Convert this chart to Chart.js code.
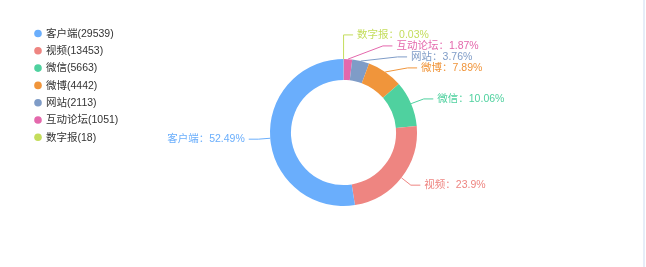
<!DOCTYPE html>
<html>
<head>
<meta charset="utf-8">
<script src="https://cdn.jsdelivr.net/npm/chart.js@4/dist/chart.umd.min.js"></script>
<style>
  html,body{margin:0;padding:0;background:#fff;}
  #wrap{position:relative;width:646px;height:267px;}
  #edge{position:absolute;left:643px;top:0;width:2px;height:267px;background:#e6edf8;}
</style>
</head>
<body>
<div id="wrap">
  <canvas id="chartFuente" width="646" height="267"></canvas>
  <div id="edge"></div>
</div>
<script>
// legend order (as shown top-left)
const categorias = ['客户端','视频','微信','微博','网站','互动论坛','数字报'];
const valores    = [29539, 13453, 5663, 4442, 2113, 1051, 18];
const colores    = ['#6aaefc','#ee8581','#4fd19f','#f0953b','#7f9cc7','#e468ac','#c4dd5b'];

const FONT = '10.5px "Liberation Sans","Noto Sans CJK SC",sans-serif';

// percentages with 2 decimals that add up to 100 (largest remainder)
function porcentajes(vals){
  const total = vals.reduce((a,b)=>a+b,0);
  const raw = vals.map(v=>v/total*10000);
  const base = raw.map(Math.floor);
  let falta = 10000 - base.reduce((a,b)=>a+b,0);
  const orden = raw.map((r,i)=>[r-base[i],i]).sort((a,b)=>b[0]-a[0]);
  for(let k=0;k<falta;k++) base[orden[k][1]]++;
  return base.map(b=>String(+(b/100).toFixed(2)));
}
const pct = porcentajes(valores);

// the ring runs counter-clockwise from the top in legend order,
// so chart.js (clockwise) gets the reversed lists
const idx = categorias.map((_,i)=>i).reverse();

const leyendaPlugin = {
  id:'leyenda',
  afterDraw(chart){
    const ctx = chart.ctx;
    ctx.save();
    ctx.font = FONT;
    ctx.textBaseline = 'middle';
    categorias.forEach((c,i)=>{
      const y = 33.5 + i*17.3;
      ctx.fillStyle = colores[i];
      ctx.beginPath(); ctx.arc(38, y, 3.8, 0, Math.PI*2); ctx.fill();
      ctx.fillStyle = '#333';
      ctx.fillText(c + '(' + valores[i] + ')', 46, y+0.5);
    });
    ctx.restore();
  }
};

const etiquetasPlugin = {
  id:'etiquetas',
  afterDatasetsDraw(chart){
    const ctx = chart.ctx;
    const arcs = chart.getDatasetMeta(0).data;
    const L1 = 12, L2 = 9.5, GAP = 4, H = 11;
    const items = arcs.map((arc,j)=>{
      const p = arc.getProps(['x','y','startAngle','endAngle','outerRadius'], true);
      const m = (p.startAngle + p.endAngle)/2;
      const c = Math.cos(m), s = Math.sin(m);
      const i = idx[j];
      return {
        i, cx:p.x, cy:p.y, R:p.outerRadius, dir: c < 0 ? -1 : 1,
        x0: p.x + p.outerRadius*c, y0: p.y + p.outerRadius*s,
        ex: p.x + (p.outerRadius+L1)*c, ey: p.y + (p.outerRadius+L1)*s, yn: p.y + (p.outerRadius+L1)*s
      };
    });
    [-1,1].forEach(dir=>{
      const lado = items.filter(t=>t.dir===dir).sort((a,b)=>a.yn-b.yn);
      if(lado.length<2) return;
      // group overlapping labels and centre each group on its natural position
      let grupos = lado.map(t=>({list:[t], media:t.yn}));
      const pos = g => g.media - (g.list.length-1)*H/2;
      let cambio = true;
      while(cambio){
        cambio = false;
        for(let k=0;k<grupos.length-1;k++){
          const a = grupos[k], b = grupos[k+1];
          if(pos(a) + a.list.length*H > pos(b)){
            const list = a.list.concat(b.list);
            grupos.splice(k,2,{list, media:list.reduce((s,t)=>s+t.yn,0)/list.length});
            cambio = true; break;
          }
        }
      }
      let movido = false;
      grupos.forEach(g=>g.list.forEach((t,k)=>{
        const y = pos(g) + k*H;
        if(Math.abs(y-t.yn)>0.01) movido = true;
        t.ey = y;
      }));
      if(!movido) return;
      // keep shifted elbows on an ellipse (top and bottom halves separately)
      const cx = lado[0].cx, cy = lado[0].cy, rA = lado[0].R + L1;
      [lado.filter(t=>t.ey<=cy), lado.filter(t=>t.ey>cy)].forEach(semi=>{
        if(!semi.length) return;
        let ext = semi[0];
        semi.forEach(t=>{ if(Math.abs(t.ey-cy) >= Math.abs(ext.ey-cy)) ext = t; });
        const dx = Math.abs(ext.ex - cx), dy = Math.abs(ext.ey - cy);
        const rB = dx < rA ? Math.sqrt(dy*dy/(1 - dx*dx/rA/rA)) : rA;
        semi.forEach(t=>{
          const d = Math.abs(t.ey-cy);
          t.ex = cx + dir*Math.sqrt(Math.max(0, 1 - d*d/rB/rB))*rA;
        });
      });
    });
    ctx.save();
    ctx.font = FONT;
    ctx.textBaseline = 'middle';
    ctx.lineWidth = 1;
    items.forEach(t=>{
      const col = colores[t.i];
      ctx.strokeStyle = col;
      ctx.beginPath();
      ctx.moveTo(t.x0, t.y0);
      ctx.lineTo(t.ex, t.ey);
      ctx.lineTo(t.ex + t.dir*L2, t.ey);
      ctx.stroke();
      ctx.fillStyle = col;
      ctx.textAlign = t.dir>0 ? 'left' : 'right';
      ctx.fillText(categorias[t.i] + '：' + pct[t.i] + '%', t.ex + t.dir*(L2+GAP), t.ey);
    });
    ctx.restore();
  }
};

new Chart(document.getElementById('chartFuente'), {
  type:'doughnut',
  data:{
    labels: idx.map(i=>categorias[i]),
    datasets:[{
      data: idx.map(i=>valores[i]),
      backgroundColor: idx.map(i=>colores[i]),
      borderWidth:0,
      hoverOffset:0
    }]
  },
  options:{
    responsive:false,
    animation:false,
    cutout:'71.5%',
    layout:{ padding:{ left:270, right:229, top:59, bottom:61 } },
    plugins:{ legend:{display:false}, tooltip:{enabled:false} }
  },
  plugins:[leyendaPlugin, etiquetasPlugin]
});
</script>
</body>
</html>
